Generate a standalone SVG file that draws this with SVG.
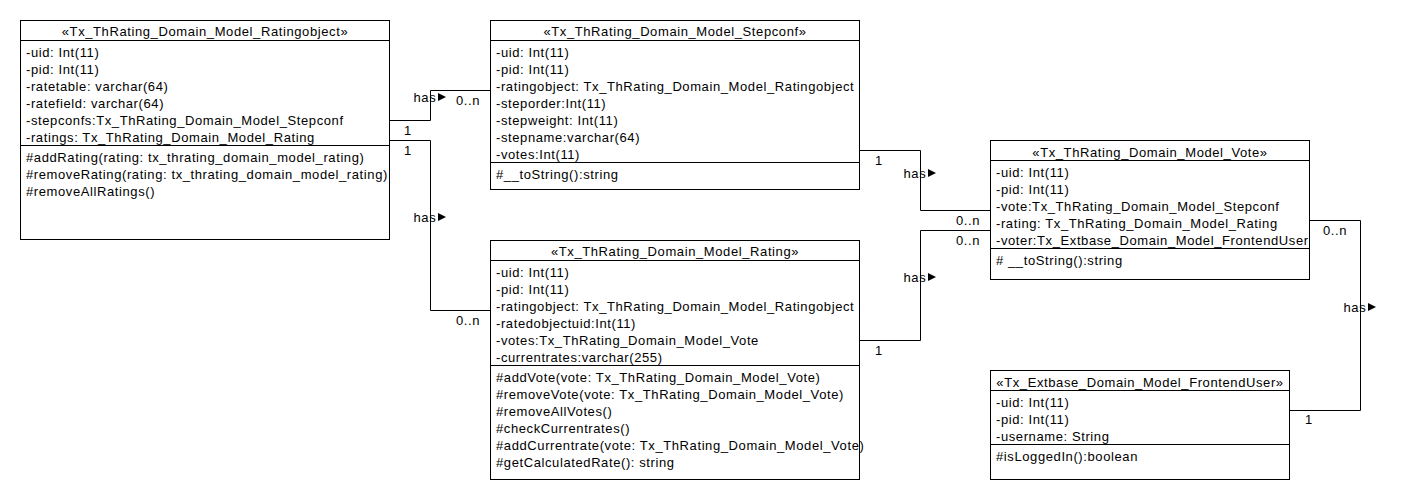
<svg xmlns="http://www.w3.org/2000/svg" xmlns:xlink="http://www.w3.org/1999/xlink" width="1418" height="500" viewBox="0 0 1418 500">
<style>
text{font-family:"Liberation Sans",Arial,sans-serif;font-size:13px;letter-spacing:0.6px;fill:#000}
.hd{text-anchor:middle}
.box{fill:#fff;stroke:#000;stroke-width:1}
.div{stroke:#000;stroke-width:1;fill:none}
.wire{fill:none;stroke:#000;stroke-width:1}
.tri{fill:#000}
</style>
<defs>
<path id="tri" d="M0,0 L8,4 L0,8 Z"/>
</defs>
<rect x="0" y="0" width="1418" height="500" fill="#fff"/>

<g id="connectors">
<path class="wire" d="M389.5,120.5 H430.5 V90.5 H490.5"/>
<path class="wire" d="M389.5,140.5 H430.5 V310.5 H490.5"/>
<path class="wire" d="M859.5,150.5 H920.5 V210.5 H990.5"/>
<path class="wire" d="M859.5,340.5 H920.5 V230.5 H990.5"/>
<path class="wire" d="M1309.5,220.5 H1360.5 V410.5 H1289.5"/>
<text x="413.5" y="101.5">has</text><use xlink:href="#tri" class="tri" x="438" y="93"/>
<text x="456" y="105">0..n</text>
<text x="404" y="135">1</text>
<text x="404" y="155">1</text>
<text x="413.5" y="221.5">has</text><use xlink:href="#tri" class="tri" x="438" y="213"/>
<text x="456" y="325">0..n</text>
<text x="875" y="165">1</text>
<text x="903.5" y="177.5">has</text><use xlink:href="#tri" class="tri" x="928" y="169"/>
<text x="956" y="225">0..n</text>
<text x="956" y="245">0..n</text>
<text x="903.5" y="281.5">has</text><use xlink:href="#tri" class="tri" x="928" y="273"/>
<text x="875" y="355">1</text>
<text x="1323" y="235">0..n</text>
<text x="1343.5" y="311.5">has</text><use xlink:href="#tri" class="tri" x="1368" y="303"/>
<text x="1305" y="424">1</text>
</g>

<g id="ratingobject">
<rect class="box" x="20.5" y="20.5" width="369" height="219"/>
<path class="div" d="M20.5,40.5 H389.5 M20.5,145.5 H389.5"/>
<text class="hd" x="205" y="36">«Tx_ThRating_Domain_Model_Ratingobject»</text>
<text x="26" y="56.5">-uid: Int(11)</text>
<text x="26" y="73.5">-pid: Int(11)</text>
<text x="26" y="90.5">-ratetable: varchar(64)</text>
<text x="26" y="107.5">-ratefield: varchar(64)</text>
<text x="26" y="124.5">-stepconfs:Tx_ThRating_Domain_Model_Stepconf</text>
<text x="26" y="141.5">-ratings: Tx_ThRating_Domain_Model_Rating</text>
<text x="26" y="161.5">#addRating(rating: tx_thrating_domain_model_rating)</text>
<text x="26" y="178.5">#removeRating(rating: tx_thrating_domain_model_rating)</text>
<text x="26" y="195.5">#removeAllRatings()</text>
</g>

<g id="stepconf">
<rect class="box" x="490.5" y="20.5" width="369" height="169"/>
<path class="div" d="M490.5,40.5 H859.5 M490.5,162.5 H859.5"/>
<text class="hd" x="675" y="36">«Tx_ThRating_Domain_Model_Stepconf»</text>
<text x="496" y="56.5">-uid: Int(11)</text>
<text x="496" y="73.5">-pid: Int(11)</text>
<text x="496" y="90.5">-ratingobject: Tx_ThRating_Domain_Model_Ratingobject</text>
<text x="496" y="107.5">-steporder:Int(11)</text>
<text x="496" y="124.5">-stepweight: Int(11)</text>
<text x="496" y="141.5">-stepname:varchar(64)</text>
<text x="496" y="158.5">-votes:Int(11)</text>
<text x="496" y="178.5">#__toString():string</text>
</g>

<g id="rating">
<rect class="box" x="490.5" y="240.5" width="369" height="239"/>
<path class="div" d="M490.5,260.5 H859.5 M490.5,365.5 H859.5"/>
<text class="hd" x="675" y="256">«Tx_ThRating_Domain_Model_Rating»</text>
<text x="496" y="276.5">-uid: Int(11)</text>
<text x="496" y="293.5">-pid: Int(11)</text>
<text x="496" y="310.5">-ratingobject: Tx_ThRating_Domain_Model_Ratingobject</text>
<text x="496" y="327.5">-ratedobjectuid:Int(11)</text>
<text x="496" y="344.5">-votes:Tx_ThRating_Domain_Model_Vote</text>
<text x="496" y="361.5">-currentrates:varchar(255)</text>
<text x="496" y="381.5">#addVote(vote: Tx_ThRating_Domain_Model_Vote)</text>
<text x="496" y="398.5">#removeVote(vote: Tx_ThRating_Domain_Model_Vote)</text>
<text x="496" y="415.5">#removeAllVotes()</text>
<text x="496" y="432.5">#checkCurrentrates()</text>
<text x="496" y="449.5">#addCurrentrate(vote: Tx_ThRating_Domain_Model_Vote)</text>
<text x="496" y="466.5">#getCalculatedRate(): string</text>
</g>

<g id="vote">
<rect class="box" x="990.5" y="140.5" width="319" height="139"/>
<path class="div" d="M990.5,160.5 H1309.5 M990.5,248.5 H1309.5"/>
<text class="hd" x="1150" y="156.5">«Tx_ThRating_Domain_Model_Vote»</text>
<text x="996" y="176.5">-uid: Int(11)</text>
<text x="996" y="193.5">-pid: Int(11)</text>
<text x="996" y="210.5">-vote:Tx_ThRating_Domain_Model_Stepconf</text>
<text x="996" y="227.5">-rating: Tx_ThRating_Domain_Model_Rating</text>
<text x="996" y="244.5">-voter:Tx_Extbase_Domain_Model_FrontendUser</text>
<text x="996" y="264.5"># __toString():string</text>
</g>

<g id="frontenduser">
<rect class="box" x="990.5" y="370.5" width="299" height="109"/>
<path class="div" d="M990.5,390.5 H1289.5 M990.5,444.5 H1289.5"/>
<text class="hd" x="1140" y="386.5">«Tx_Extbase_Domain_Model_FrontendUser»</text>
<text x="996" y="406.5">-uid: Int(11)</text>
<text x="996" y="423.5">-pid: Int(11)</text>
<text x="996" y="440.5">-username: String</text>
<text x="996" y="460.5">#isLoggedIn():boolean</text>
</g>
</svg>
